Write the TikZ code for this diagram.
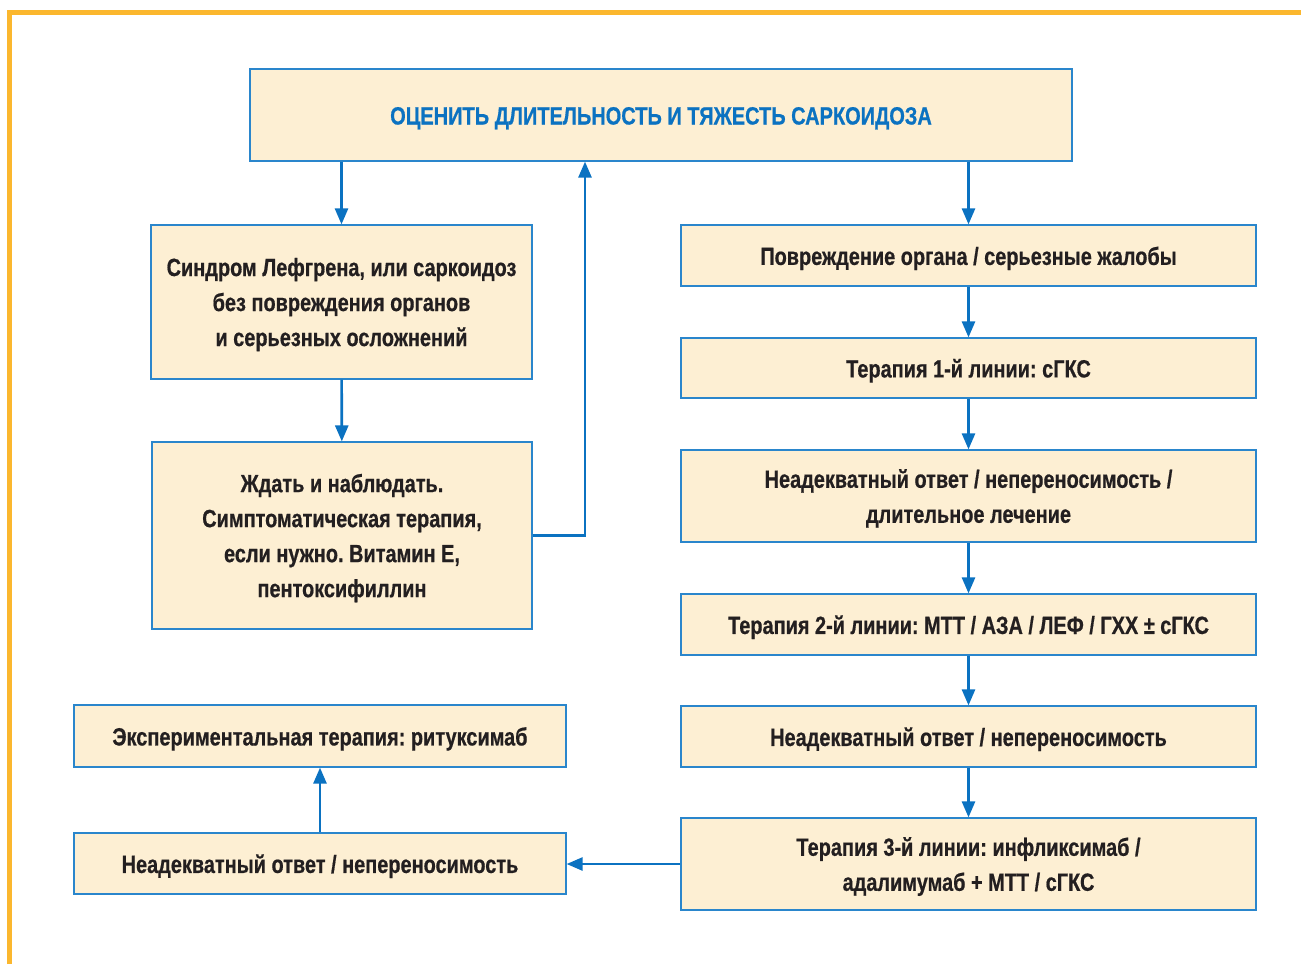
\documentclass[tikz,border=0pt]{standalone}
\usepackage{fontspec}
\setmainfont[FakeStretch=0.8,BoldFeatures={FakeBold=0.6}]{Liberation Sans}
\frenchspacing
\usepackage{tikz}
\usetikzlibrary{arrows.meta,positioning,calc}
\definecolor{frameorange}{HTML}{FBB72E}
\definecolor{boxfill}{HTML}{FDEFD3}
\definecolor{boxline}{HTML}{2A86CC}
\definecolor{arrblue}{HTML}{0B72C1}
\definecolor{txtdark}{HTML}{231F20}
\tikzset{
  >={Triangle[length=8pt,width=6.5pt]},
  % blocks
  bx/.style={rectangle,draw=boxline,fill=boxfill,line width=0.6pt,inner sep=2pt,
             align=center,text=txtdark,
             execute at begin node={\rule{0pt}{12pt}},
             font=\fontsize{12.45}{17.5}\selectfont\bfseries},
  ml/.style={text depth=-0.4pt},
  hd/.style={bx,text=arrblue,font=\fontsize{12.5}{17.5}\selectfont\bfseries},
  rw/.style={bx,minimum width=287.5pt},
  % arrows
  ar/.style={->,draw=arrblue,line width=1.3pt},
}
\begin{document}
\begin{tikzpicture}[x=0.5pt,y=-0.5pt]
\useasboundingbox (0,0) rectangle (1301,964);
  \draw[frameorange,line width=2.5pt] (9.5,964) -- (9.5,12.5) -- (1301,12.5);
  \node[hd,minimum width=411pt,minimum height=46pt] (top) at (661,115)
    {ОЦЕНИТЬ ДЛИТЕЛЬНОСТЬ И ТЯЖЕСТЬ САРКОИДОЗА};
  % left branch
  \node[bx,ml,minimum width=190.5pt,minimum height=77pt] (lof) at (341.5,302)
    {Синдром Лефгрена, или саркоидоз\\без повреждения органов\\и серьезных осложнений};
  \node[bx,ml,minimum width=190pt,minimum height=93.5pt] (wait) at (342,535.5)
    {Ждать и наблюдать.\\Симптоматическая терапия,\\если нужно. Витамин E,\\пентоксифиллин};
  % right branch
  \node[rw,minimum height=30.5pt] (org) at (968.5,255.5)
    {Повреждение органа / серьезные жалобы};
  \node[rw,minimum height=30pt] (lin1) at (968.5,368)
    {Терапия 1-й линии: сГКС};
  \node[rw,ml,minimum height=46pt] (bad1) at (968.5,496)
    {Неадекватный ответ / непереносимость /\\длительное лечение};
  \node[rw,minimum height=30.5pt] (lin2) at (968.5,624.5)
    {Терапия 2-й линии: МТТ / АЗА / ЛЕФ / ГХХ ± сГКС};
  \node[rw,minimum height=30.5pt] (bad2) at (968.5,736.5)
    {Неадекватный ответ / непереносимость};
  \node[rw,ml,minimum height=46pt] (lin3) at (968.5,864)
    {Терапия 3-й линии: инфликсимаб /\\адалимумаб + МТТ / сГКС};
  % bottom left
  \node[bx,minimum width=246pt,minimum height=31pt] (exp) at (320,736)
    {Экспериментальная терапия: ритуксимаб};
  \node[bx,minimum width=246pt,minimum height=30.5pt] (bad3) at (320,863.5)
    {Неадекватный ответ / непереносимость};
  \coordinate (back) at (585,0);
  \draw[ar] (top.south -| lof.north) -- (lof.north);
  \draw[ar] (top.south -| org.north) -- (org.north);
  \draw[ar] (lof) -- (wait);
  \draw[ar] (wait.east) -| (back |- top.south);
  \draw[ar] (org) -- (lin1);
  \draw[ar] (lin1) -- (bad1);
  \draw[ar] (bad1) -- (lin2);
  \draw[ar] (lin2) -- (bad2);
  \draw[ar] (bad2) -- (lin3);
  \draw[ar] (lin3.west) -- (lin3.west -| bad3.east);
  \draw[ar] (bad3) -- (exp);
\end{tikzpicture}
\end{document}
